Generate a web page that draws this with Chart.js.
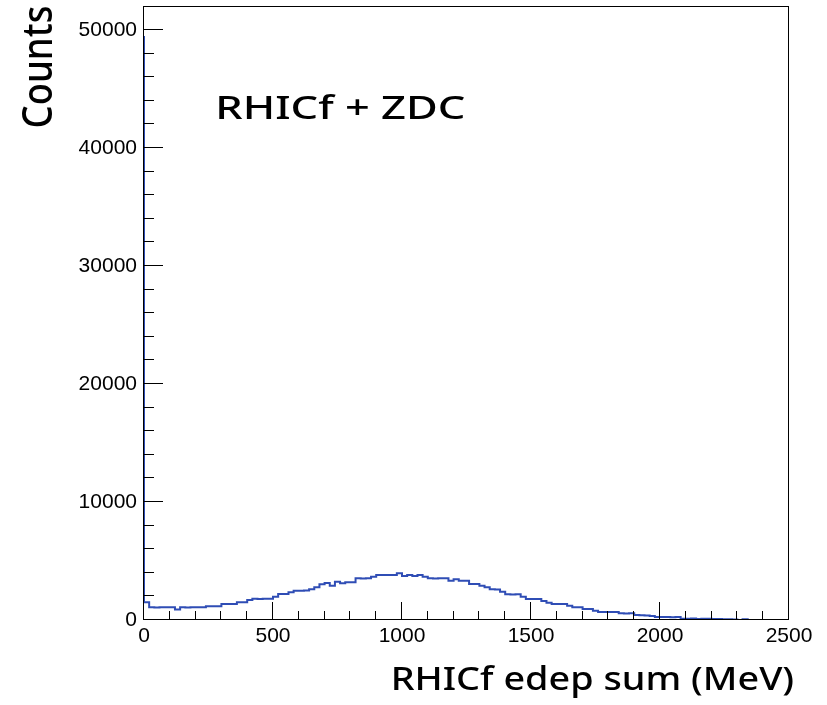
<!DOCTYPE html>
<html><head><meta charset="utf-8">
<script src="https://cdn.jsdelivr.net/npm/chart.js@4.4.1/dist/chart.umd.min.js"></script>
<style>html,body{margin:0;padding:0;background:#fff;}#wrap{width:827px;height:705px;}</style>
</head><body><div id="wrap"><canvas id="c" width="827" height="705"></canvas></div>
<script>
// Histogram: 125 bins of 20 MeV from 0 to 2500 MeV
const binWidth = 20;
const counts = [
 49500, 1500, 1075, 1060, 1075, 1070, 1075, 900, 1075, 1065,
 1075, 1070, 1075, 1160, 1160, 1165, 1355, 1350, 1360, 1500,
 1505, 1695, 1800, 1790, 1800, 1810, 1975, 2200, 2195, 2345,
 2485, 2480, 2490, 2600, 2770, 3025, 3135, 2905, 3245, 3110,
 3195, 3190, 3530, 3525, 3535, 3670, 3815, 3810, 3815, 3820,
 3955, 3730, 3815, 3730, 3815, 3670, 3530, 3525, 3530, 3535,
 3335, 3450, 3335, 3330, 3050, 3045, 2905, 2770, 2600, 2595,
 2400, 2175, 2170, 2175, 1975, 1780, 1775, 1780, 1610, 1470,
 1355, 1350, 1355, 1215, 1075, 1070, 930, 925, 790, 680,
 675, 680, 680, 565, 560, 565, 425, 400, 380, 340,
 250, 245, 250, 240, 250, 110, 100, 120, 90, 110,
 100, 80, 90, 70, 60, 50, 0, 60, 0, 0,
 0, 0, 0, 0, 0
];
const xTickLabels = [0, 500, 1000, 1500, 2000, 2500];
const yTickLabels = [0, 10000, 20000, 30000, 40000, 50000];
const xMinorStep = 100;
const yMinorStep = 2000;
const xRange = [0, 2500];
const yRange = [0, 51950];
const titleText = 'RHICf + ZDC';
const xTitle = 'RHICf edep sum (MeV)';
const yTitle = 'Counts';

const points = counts.map((c, i) => ({x: i * binWidth, y: c}));
points.push({x: counts.length * binWidth, y: counts[counts.length - 1]});

const TITLE_FONT = '"Noto Sans", "Open Sans", sans-serif';
const TICK_FONT = '"Liberation Sans", Arial, sans-serif';

function capRatio(ctx, family, weight) {
  ctx.font = weight + ' 100px ' + family;
  return ctx.measureText('H').actualBoundingBoxAscent / 100;
}
function fitText(ctx, text, weight, cap, left, right, baseline) {
  const size = cap / capRatio(ctx, TITLE_FONT, weight);
  ctx.font = weight + ' ' + size + 'px ' + TITLE_FONT;
  const m = ctx.measureText(text);
  const inkW = m.actualBoundingBoxRight + m.actualBoundingBoxLeft;
  const sx = (right - left) / inkW;
  ctx.save();
  ctx.translate(left, baseline);
  ctx.scale(sx, 1);
  ctx.textAlign = 'left';
  ctx.textBaseline = 'alphabetic';
  ctx.fillStyle = '#000';
  ctx.fillText(text, m.actualBoundingBoxLeft, 0);
  ctx.restore();
}

const decor = {
  id: 'decor',
  afterDatasetsDraw(chart) {
    const ctx = chart.ctx;
    const a = chart.chartArea;
    const xs = chart.scales.x, ys = chart.scales.y;
    ctx.save();
    ctx.strokeStyle = '#000';
    ctx.lineWidth = 1;
    ctx.beginPath();
    for (let v = xRange[0] + xMinorStep; v < xRange[1]; v += xMinorStep) {
      const px = Math.round(xs.getPixelForValue(v)) - 0.5;
      const len = xTickLabels.includes(v) ? 18 : 9;
      ctx.moveTo(px, a.bottom); ctx.lineTo(px, a.bottom - len);
    }
    for (let v = yRange[0] + yMinorStep; v <= yRange[1]; v += yMinorStep) {
      const py = Math.round(ys.getPixelForValue(v)) - 0.5;
      const len = yTickLabels.includes(v) ? 19 : 10;
      ctx.moveTo(a.left, py); ctx.lineTo(a.left + len, py);
    }
    ctx.stroke();
    ctx.strokeRect(a.left - 0.5, a.top - 0.5, a.right - a.left, a.bottom - a.top);
    ctx.restore();

    fitText(ctx, titleText, 500, 23, 218, 465, 118.5);
    fitText(ctx, xTitle, 500, 23, 393, 793, 690);
    ctx.save();
    ctx.translate(51.5, 126.7);
    ctx.rotate(-Math.PI / 2);
    fitText(ctx, yTitle, 500, 30, 0, 120, 0);
    ctx.restore();
  }
};

new Chart(document.getElementById('c'), {
  type: 'line',
  data: {
    datasets: [{
      data: points,
      stepped: 'after',
      borderColor: '#2f4db5',
      borderWidth: 2,
      pointRadius: 0,
      fill: false,
      tension: 0
    }]
  },
  options: {
    responsive: false,
    animation: false,
    devicePixelRatio: 1,
    layout: {padding: {left: 0, right: 38, top: 7, bottom: 0}},
    plugins: {legend: {display: false}, tooltip: {enabled: false}},
    scales: {
      x: {
        type: 'linear',
        min: xRange[0], max: xRange[1],
        grid: {display: false, drawTicks: false},
        border: {display: false},
        afterBuildTicks(s) { s.ticks = xTickLabels.map(v => ({value: v})); },
        ticks: {
          autoSkip: false,
          maxRotation: 0,
          minRotation: 0,
          padding: 4,
          color: '#000',
          font: {family: TICK_FONT, size: 21},
          callback: (v) => String(v)
        },
        afterFit(s) { s.height = 85; s.paddingLeft = 0; s.paddingRight = 0; }
      },
      y: {
        type: 'linear',
        min: yRange[0], max: yRange[1],
        grid: {display: false, drawTicks: false},
        border: {display: false},
        afterBuildTicks(s) { s.ticks = yTickLabels.map(v => ({value: v})); },
        ticks: {
          autoSkip: false,
          padding: 7,
          color: '#000',
          font: {family: TICK_FONT, size: 21},
          callback: (v) => String(v)
        },
        afterFit(s) { s.width = 144; s.paddingTop = 0; s.paddingBottom = 0; }
      }
    }
  },
  plugins: [decor]
});
</script>
</body></html>
